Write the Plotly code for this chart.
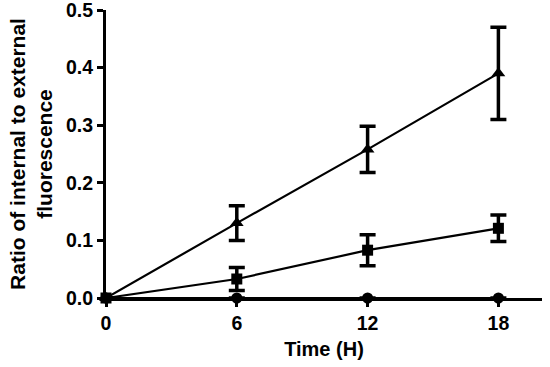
import plotly.graph_objects as go

time_h = [0, 6, 12, 18]
tri_vals = [0.0, 0.130, 0.258, 0.390]
tri_err = [0.0, 0.030, 0.040, 0.080]
sq_vals = [0.0, 0.033, 0.083, 0.121]
sq_err = [0.0, 0.020, 0.027, 0.023]
circ_vals = [0.0, 0.0, 0.0, 0.0]
circ_err = [0.0, 0.0, 0.0, 0.0]

x_ticks = [0, 6, 12, 18]
y_ticks = [0.0, 0.1, 0.2, 0.3, 0.4, 0.5]

FONT = "Liberation Sans, Arial, sans-serif"

fig = go.Figure()

def add(y, err, symbol, size):
    fig.add_trace(go.Scatter(
        x=time_h, y=y, mode="lines+markers",
        line=dict(color="black", width=2.2),
        marker=dict(symbol=symbol, size=size, color="black"),
        error_y=dict(type="data", array=err, visible=True, color="black", thickness=3.5, width=8),
        cliponaxis=False, showlegend=False, hoverinfo="skip"))

add(circ_vals, circ_err, "circle", 11)
add(sq_vals, sq_err, "square", 11)
add(tri_vals, tri_err, "triangle-up", 12)

fig.update_layout(
    width=550, height=367,
    margin=dict(l=106, r=8, t=10, b=69),
    plot_bgcolor="white", paper_bgcolor="white",
    font=dict(family=FONT, color="black"),
)
fig.update_xaxes(
    range=[0, 20], tickvals=x_ticks, ticktext=[f"<b>{v}</b>" for v in x_ticks],
    showline=True, linecolor="black", linewidth=3,
    ticks="outside", ticklen=6, tickwidth=3, tickcolor="black",
    showgrid=False, zeroline=False, automargin=False, ticklabeloverflow="allow",
    tickfont=dict(size=19.5, family=FONT),
    title=dict(text="<b>Time (H)</b>", font=dict(size=20), standoff=9),
)
fig.update_yaxes(
    range=[0, 0.5], tickvals=y_ticks, ticktext=[f"<b>{v:.1f}</b>" for v in y_ticks],
    showline=True, linecolor="black", linewidth=3,
    ticks="outside", ticklen=6, tickwidth=3, tickcolor="black",
    showgrid=False, zeroline=False, automargin=False, ticklabeloverflow="allow",
    tickfont=dict(size=19.5, family=FONT),
    title=dict(text="<b>Ratio of internal to external<br>fluorescence</b>", font=dict(size=21), standoff=8),
)

fig.write_html("out.html", config={"displayModeBar": False},
               post_script="document.body.style.margin='0';")
